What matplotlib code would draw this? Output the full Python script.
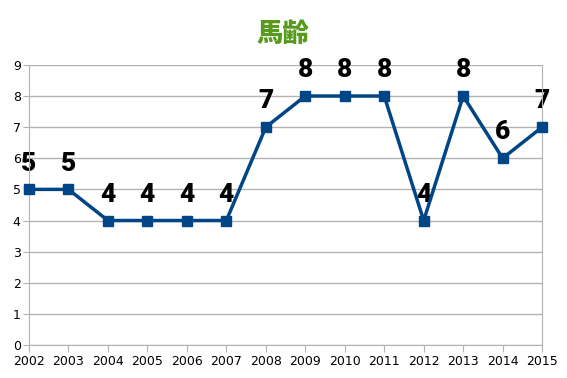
import matplotlib
matplotlib.use('Agg')
import matplotlib.pyplot as plt

years = ['2002', '2003', '2004', '2005', '2006', '2007', '2008',
         '2009', '2010', '2011', '2012', '2013', '2014', '2015']
ages = [5, 5, 4, 4, 4, 4, 7, 8, 8, 8, 4, 8, 6, 7]
title = '馬齢'

fig = plt.figure(figsize=(5.67, 3.78), dpi=100)
ax = fig.add_axes([0.0511, 0.0873, 0.905, 0.741])

x = list(range(len(years)))
ax.plot(x, ages, color='#004586', linewidth=2.5, marker='s', markersize=7.5,
        zorder=3, clip_on=False)

# value labels, drawn under the line
for xi, v in zip(x, ages):
    ax.annotate(str(v), (xi, v), xytext=(0, 10), textcoords='offset points',
                ha='center', va='bottom', fontsize=19, fontweight='black',
                family=['Roboto', 'DejaVu Sans'], color='black',
                zorder=2)

ax.set_xlim(0, len(years) - 1)
ax.set_ylim(0, 9)
ax.set_yticks(range(10))
ax.set_xticks(x)
ax.set_xticklabels(years)
ax.grid(axis='y', color='#b3b3b3', linewidth=1)
ax.set_axisbelow(True)

ax.spines['top'].set_visible(False)
for s in ['left', 'right', 'bottom']:
    ax.spines[s].set_color('#b3b3b3')
ax.tick_params(axis='x', direction='out', length=5, color='#b3b3b3',
               labelsize=9, pad=2)
ax.tick_params(axis='y', direction='out', length=4, color='#b3b3b3',
               labelsize=9, pad=2)

fig.text(0.5, 0.912, title, ha='center', va='center', fontsize=19,
         fontweight='black', color='#579a1c',
         family=['Noto Sans CJK JP', 'DejaVu Sans'])

fig.savefig('out.png', dpi=100)
